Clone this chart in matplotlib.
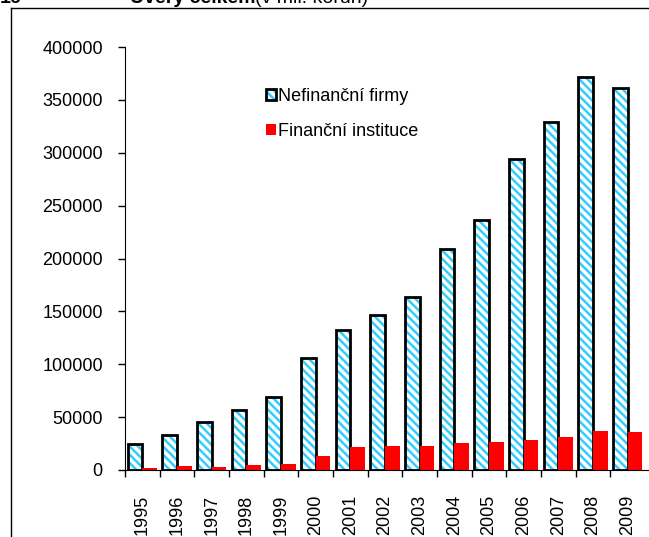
import numpy as np
import matplotlib
matplotlib.use('Agg')
import matplotlib.pyplot as plt
from matplotlib.lines import Line2D

plt.rcParams['font.family'] = ['Liberation Sans', 'DejaVu Sans']
plt.rcParams['hatch.linewidth'] = 1.8

# Data (v mil. korun)
years = ['1995', '1996', '1997', '1998', '1999', '2000', '2001', '2002',
         '2003', '2004', '2005', '2006', '2007', '2008', '2009']
nefinancni = [24600, 33100, 45200, 57100, 69400, 106000, 132600, 146800,
              163800, 209300, 236700, 294500, 329500, 372000, 361000]
financni = [1900, 3500, 3200, 4400, 5700, 13000, 21500, 22700,
            22700, 25300, 26500, 28700, 31000, 37200, 36000]
yticks = [0, 50000, 100000, 150000, 200000, 250000, 300000, 350000, 400000]

fig = plt.figure(figsize=(6.49, 5.37), dpi=100)
ax = fig.add_axes([125 / 649, 1 - 470 / 537, 524 / 649, (470 - 47) / 537])

x = np.arange(len(years))
w = 0.42
# hatched fill, then black outline on top
hatched = ax.bar(x - w / 2, nefinancni, w, facecolor='white', edgecolor='#33CCFF',
                 linewidth=0, hatch='\\\\\\\\')
outline = ax.bar(x - w / 2, nefinancni, w, fill=False, edgecolor='black',
                 linewidth=2)
red = ax.bar(x + w / 2, financni, w, color='#FF0000', edgecolor='none')

ax.set_ylim(0, 400000)
ax.set_xlim(-0.5, 14.5 + 4 / 34.67)
ax.set_yticks(yticks)
ax.set_yticklabels([str(v) for v in yticks], fontsize=13)
ax.set_xticks(x)
ax.set_xticklabels(years, rotation=90, fontsize=13)
ax.set_xticks(np.arange(len(years)) - 0.5, minor=True)
ax.tick_params(axis='x', which='major', length=0, pad=18)
ax.tick_params(axis='x', which='minor', length=5, width=1)
ax.tick_params(axis='y', length=5, width=1, pad=11)
ax.spines['top'].set_visible(False)
ax.spines['right'].set_visible(False)

ax.legend([(hatched[0], outline[0]), red[0]],
          ['Nefinanční firmy', 'Finanční instituce'],
          loc='upper left', bbox_to_anchor=(0.255, 0.921), frameon=False,
          fontsize=13, handlelength=0.55, handleheight=0.55,
          handletextpad=0.1, labelspacing=1.0, borderaxespad=0)

# outer frame (top and left edges visible)
fig.add_artist(Line2D([11 / 649, 1.0], [1 - 8 / 537, 1 - 8 / 537],
                      color='black', linewidth=1))
fig.add_artist(Line2D([11 / 649, 11 / 649], [0, 1 - 8 / 537],
                      color='black', linewidth=1))

# title, mostly cut off at the top edge
fig.text(0.0, 1 - 3 / 537, '16', fontsize=14, fontweight='bold', va='baseline')
fig.text(130 / 649, 1 - 3 / 537, 'Úvěry celkem', fontsize=14,
         fontweight='bold', va='baseline')
fig.text(255 / 649, 1 - 3 / 537, '(v mil. korun)', fontsize=14, va='baseline')

fig.savefig('out.png', dpi=100)
